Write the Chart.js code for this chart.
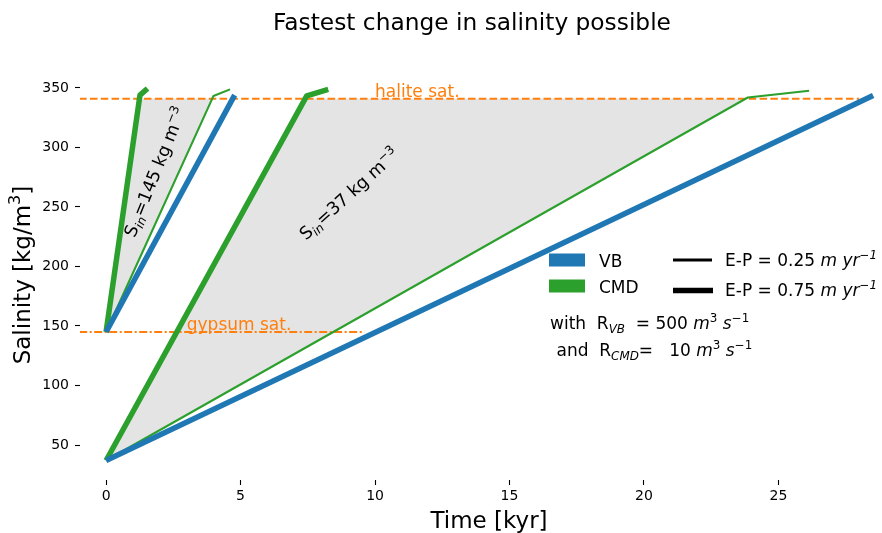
<!DOCTYPE html>
<html><head><meta charset="utf-8">
<script src="https://cdn.jsdelivr.net/npm/chart.js@4/dist/chart.umd.min.js"></script>
<style>html,body{margin:0;padding:0;background:#fff;overflow:hidden}</style>
</head><body>
<canvas id="c" width="882" height="533" style="display:block;width:882px;height:533px"></canvas>
<script>
// ---- data ----
const xTicks = [0, 5, 10, 15, 20, 25];
const yTicks = [50, 100, 150, 200, 250, 300, 350];

const haliteSat = 341;
const gypsumSat = 145;
const haliteTime = [-1, 28];
const gypsumTime = [-1, 9.6];

// S_in = 145 kg m-3
const timeVB145 = [0, 4.78];
const salVB145 = [145, 344];
const timeCMD145Thick = [0, 1.26, 1.54];
const salCMD145Thick = [145, 344, 349.6];
const timeCMD145Thin = [0, 3.99, 4.61];
const salCMD145Thin = [145, 343.2, 348.8];

// S_in = 37 kg m-3
const timeVB37 = [0, 28.52];
const salVB37 = [37, 343.6];
const timeCMD37Thick = [0, 7.46, 8.26];
const salCMD37Thick = [37, 343.4, 348.8];
const timeCMD37Thin = [0, 23.86, 26.14];
const salCMD37Thin = [37, 342, 347.7];

// shaded ranges (between thick and thin CMD up to halite saturation)
const timeFill145 = [0, 1.245, 3.96];
const salFill145 = [145, 341, 341];
const timeFill37 = [0, 7.40, 23.78];
const salFill37 = [37, 341, 341];

const BLUE = '#1f77b4', GREEN = '#2ca02c', ORANGE = '#ff7f0e';
const FONT = '"DejaVu Sans", "Liberation Sans", sans-serif';
const THICK = 5.5, THIN = 2.1;

const pts = (xs, ys) => xs.map((x, i) => ({x: x, y: ys[i]}));
const line = (xs, ys, color, w, extra) => Object.assign({
  data: pts(xs, ys), showLine: true, borderColor: color, backgroundColor: color,
  borderWidth: w, pointRadius: 0, fill: false, borderJoinStyle: 'round', tension: 0
}, extra || {});

const datasets = [
  line(timeVB145, salVB145, BLUE, THICK),
  line(timeVB37, salVB37, BLUE, THICK),
  line(timeCMD145Thick, salCMD145Thick, GREEN, THICK),
  line(timeCMD37Thick, salCMD37Thick, GREEN, THICK),
  line(timeCMD145Thin, salCMD145Thin, GREEN, THIN),
  line(timeCMD37Thin, salCMD37Thin, GREEN, THIN),
  line(haliteTime, [haliteSat, haliteSat], ORANGE, 2.1, {borderDash: [7.5, 3.3]}),
  line(gypsumTime, [gypsumSat, gypsumSat], ORANGE, 2.1, {borderDash: [8, 2.5, 2, 2.5]}),
  line(timeFill145, salFill145, '#e4e4e4', 0, {fill: 'shape', backgroundColor: '#e4e4e4'}),
  line(timeFill37, salFill37, '#e4e4e4', 0, {fill: 'shape', backgroundColor: '#e4e4e4'})
];

// ---- rich text helper ----
function segFont(s, size) {
  const sz = (s.sub || s.sup) ? size * 0.7 : size;
  return (s.it ? 'italic ' : '') + sz + 'px ' + FONT;
}
function richWidth(ctx, segs, size) {
  let w = 0;
  segs.forEach(s => { ctx.font = segFont(s, size); w += ctx.measureText(s.t).width; });
  return w;
}
function drawRich(ctx, segs, size, x, y, align) {
  const w = richWidth(ctx, segs, size);
  let cx = align === 'center' ? x - w / 2 : x;
  ctx.textAlign = 'left';
  ctx.textBaseline = 'alphabetic';
  segs.forEach(s => {
    ctx.font = segFont(s, size);
    const dy = s.sub ? size * 0.22 : (s.sup ? -size * 0.42 : 0);
    ctx.fillText(s.t, cx, y + dy);
    cx += ctx.measureText(s.t).width;
  });
}
const T = (t, o) => Object.assign({t: t}, o || {});

const textPlugin = {
  id: 'texts',
  afterDatasetsDraw(chart) {
    const ctx = chart.ctx;
    const xs = chart.scales.x, ys = chart.scales.y;
    ctx.save();
    ctx.fillStyle = '#000';
    // title
    drawRich(ctx, [T('Fastest change in salinity possible')], 23.3, 472, 30, 'center');
    // axis titles
    drawRich(ctx, [T('Time [kyr]')], 23, 489, 528, 'center');
    ctx.save();
    ctx.translate(30, 275);
    ctx.rotate(-Math.PI / 2);
    drawRich(ctx, [T('Salinity [kg/m'), T('3', {sup: true}), T(']')], 23, 0, 0, 'center');
    ctx.restore();

    // saturation labels
    ctx.fillStyle = ORANGE;
    drawRich(ctx, [T('halite sat.')], 17, xs.getPixelForValue(10), ys.getPixelForValue(342.4), 'left');
    drawRich(ctx, [T('gypsum sat.')], 17, xs.getPixelForValue(3.0), ys.getPixelForValue(147), 'left');

    // rotated S_in labels
    ctx.fillStyle = '#000';
    const rot = (cx, cy, ang, segs) => {
      ctx.save();
      ctx.translate(cx, cy);
      ctx.rotate(-ang * Math.PI / 180);
      drawRich(ctx, segs, 17.5, 0, 6, 'center');
      ctx.restore();
    };
    rot(155, 172, 68, [T('S'), T('in', {sub: true, it: true}), T('=145 kg m'), T('\u22123', {sup: true})]);
    rot(349, 194, 42, [T('S'), T('in', {sub: true, it: true}), T('=37 kg m'), T('\u22123', {sup: true})]);

    // legend
    ctx.fillStyle = BLUE; ctx.fillRect(549, 253.5, 36, 13);
    ctx.fillStyle = GREEN; ctx.fillRect(549, 279.5, 36, 13);
    ctx.strokeStyle = '#000';
    ctx.lineWidth = 2.8; ctx.beginPath(); ctx.moveTo(673, 260); ctx.lineTo(712, 260); ctx.stroke();
    ctx.lineWidth = 5.6; ctx.beginPath(); ctx.moveTo(673, 290.5); ctx.lineTo(713, 290.5); ctx.stroke();
    ctx.fillStyle = '#000';
    const LS = 17;
    drawRich(ctx, [T('VB')], LS, 599, 266.5, 'left');
    drawRich(ctx, [T('CMD')], LS, 599, 292.5, 'left');
    drawRich(ctx, [T('E-P = 0.25 '), T('m yr', {it: true}), T('\u22121', {sup: true, it: true})], LS, 725, 266, 'left');
    drawRich(ctx, [T('E-P = 0.75 '), T('m yr', {it: true}), T('\u22121', {sup: true, it: true})], LS, 725, 296, 'left');
    drawRich(ctx, [T('with  R'), T('VB', {sub: true, it: true}), T('  = 500 '), T('m', {it: true}), T('3', {sup: true}), T(' '), T('s', {it: true}), T('\u22121', {sup: true})], LS, 550, 329, 'left');
    drawRich(ctx, [T('and  R'), T('CMD', {sub: true, it: true}), T('=   10 '), T('m', {it: true}), T('3', {sup: true}), T(' '), T('s', {it: true}), T('\u22121', {sup: true})], LS, 556.5, 356, 'left');
    ctx.restore();
  }
};

const axisCommon = {
  type: 'linear',
  border: {display: false},
  grid: {drawOnChartArea: false, drawTicks: true, tickLength: 5, tickWidth: 1.1, tickColor: '#000'},
};

new Chart(document.getElementById('c'), {
  type: 'scatter',
  data: {datasets: datasets},
  options: {
    responsive: false,
    animation: false,
    events: [],
    layout: {padding: {top: 70, left: 0, right: 0, bottom: 0}},
    plugins: {legend: {display: false}, tooltip: {enabled: false}, title: {display: false}},
    scales: {
      x: Object.assign({}, axisCommon, {
        min: -0.97, max: 28.85,
        ticks: {font: {family: FONT, size: 14}, color: '#000', padding: 3, maxRotation: 0},
        afterBuildTicks: s => { s.ticks = xTicks.map(v => ({value: v})); },
        afterFit: s => { s.height = 53; }
      }),
      y: Object.assign({}, axisCommon, {
        min: 20.6, max: 365.1,
        ticks: {font: {family: FONT, size: 14}, color: '#000', padding: 6},
        afterBuildTicks: s => { s.ticks = yTicks.map(v => ({value: v})); },
        afterFit: s => { s.width = 80; }
      })
    }
  },
  plugins: [textPlugin]
});
</script>
</body></html>
